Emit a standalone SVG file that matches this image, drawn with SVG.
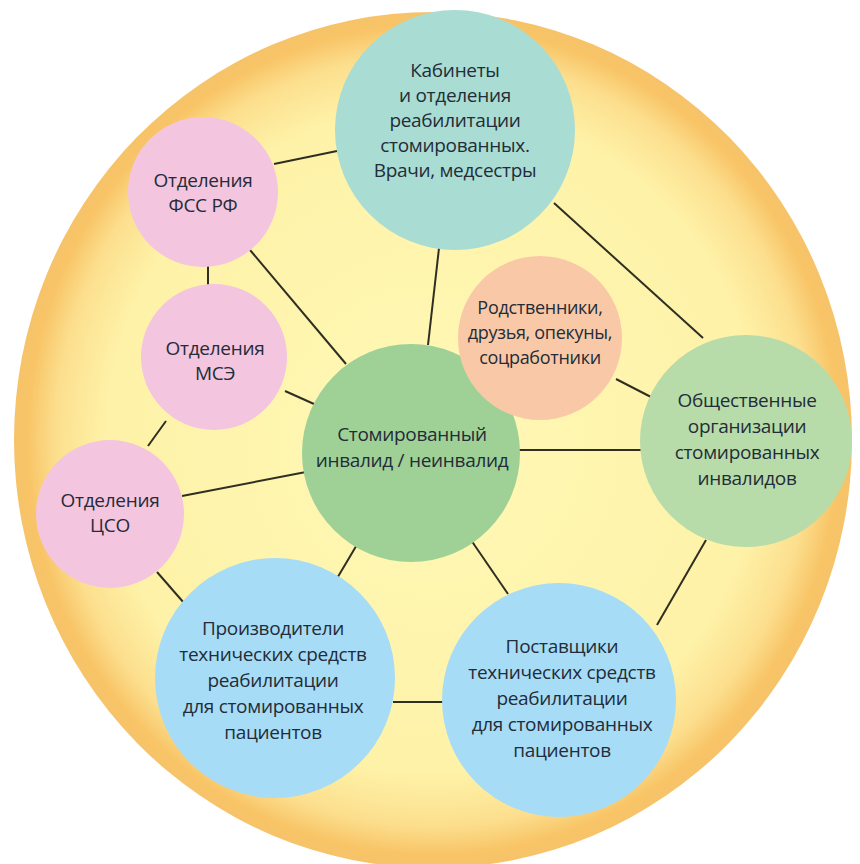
<svg xmlns="http://www.w3.org/2000/svg" width="860" height="864" viewBox="0 0 860 864">
  <defs>
    <radialGradient id="bg" cx="0.5" cy="0.5" r="0.5">
      <stop offset="0" stop-color="#fff8b6"/>
      <stop offset="0.78" stop-color="#fef2a8"/>
      <stop offset="0.9" stop-color="#fcdf8e"/>
      <stop offset="0.97" stop-color="#f8c466"/>
      <stop offset="1" stop-color="#f7c36a"/>
    </radialGradient>
    <style>
      text { font-family: "Open Sans", "Noto Sans", "Liberation Sans", sans-serif; font-size: 19px; fill: #232c38; text-anchor: middle; letter-spacing: -0.3px; }
      .small { font-size: 18px; }
      .pink { fill: #f4c5df; }
      .teal { fill: #a9dcd3; }
      .salmon { fill: #f9c9a7; }
      .green1 { fill: #9fd197; }
      .green2 { fill: #b7dcaa; }
      .blue { fill: #a7dcf6; }
      .conn line { stroke: #2e2e22; stroke-width: 2; }
    </style>
  </defs>
  <rect width="860" height="864" fill="#ffffff"/>
  <ellipse id="background" cx="433" cy="440" rx="419" ry="428" fill="url(#bg)"/>

  <g id="connectors" class="conn">
    <line x1="274" y1="164" x2="337" y2="151"/>
    <line x1="208" y1="266" x2="208" y2="287"/>
    <line x1="250" y1="250" x2="346" y2="364"/>
    <line x1="439" y1="248" x2="428" y2="345"/>
    <line x1="554" y1="203" x2="703" y2="338"/>
    <line x1="285" y1="391" x2="314" y2="404"/>
    <line x1="166" y1="421" x2="148" y2="446"/>
    <line x1="182" y1="496" x2="306" y2="472"/>
    <line x1="157" y1="572" x2="184" y2="603"/>
    <line x1="358" y1="543" x2="336" y2="580"/>
    <line x1="471" y1="540" x2="508" y2="594"/>
    <line x1="516" y1="450" x2="642" y2="450"/>
    <line x1="616" y1="379" x2="651" y2="397"/>
    <line x1="706" y1="540" x2="657" y2="625"/>
    <line x1="393" y1="702" x2="446" y2="702"/>
  </g>

  <g id="node-kabinety">
    <circle class="teal" cx="455" cy="130" r="120"/>
    <text x="455" y="77">Кабинеты</text>
    <text x="455" y="102">и отделения</text>
    <text x="455" y="127">реабилитации</text>
    <text x="455" y="152">стомированных.</text>
    <text x="455" y="177">Врачи, медсестры</text>
  </g>

  <g id="node-fss">
    <circle class="pink" cx="203" cy="192" r="75"/>
    <text x="203" y="187">Отделения</text>
    <text x="203" y="212">ФСС РФ</text>
  </g>

  <g id="node-mse">
    <circle class="pink" cx="214" cy="357" r="73"/>
    <text x="215" y="355">Отделения</text>
    <text x="215" y="380">МСЭ</text>
  </g>

  <g id="node-cso">
    <circle class="pink" cx="110" cy="514" r="74"/>
    <text x="110" y="507">Отделения</text>
    <text x="110" y="532">ЦСО</text>
  </g>

  <g id="node-center">
    <circle class="green1" cx="411" cy="453" r="109"/>
    <text x="412" y="441">Стомированный</text>
    <text x="412" y="467">инвалид / неинвалид</text>
  </g>

  <g id="node-relatives">
    <circle class="salmon" cx="540" cy="338" r="82"/>
    <text class="small" x="540" y="314">Родственники,</text>
    <text class="small" x="540" y="339">друзья, опекуны,</text>
    <text class="small" x="540" y="364">соцработники</text>
  </g>

  <g id="node-public">
    <circle class="green2" cx="746" cy="441" r="106"/>
    <text x="747" y="407">Общественные</text>
    <text x="747" y="433">организации</text>
    <text x="747" y="459">стомированных</text>
    <text x="747" y="485">инвалидов</text>
  </g>

  <g id="node-producers">
    <circle class="blue" cx="275" cy="678" r="120"/>
    <text x="273" y="635">Производители</text>
    <text x="273" y="661">технических средств</text>
    <text x="273" y="687">реабилитации</text>
    <text x="273" y="713">для стомированных</text>
    <text x="273" y="739">пациентов</text>
  </g>

  <g id="node-suppliers">
    <circle class="blue" cx="559" cy="700" r="117"/>
    <text x="562" y="653">Поставщики</text>
    <text x="562" y="679">технических средств</text>
    <text x="562" y="705">реабилитации</text>
    <text x="562" y="731">для стомированных</text>
    <text x="562" y="757">пациентов</text>
  </g>
</svg>
